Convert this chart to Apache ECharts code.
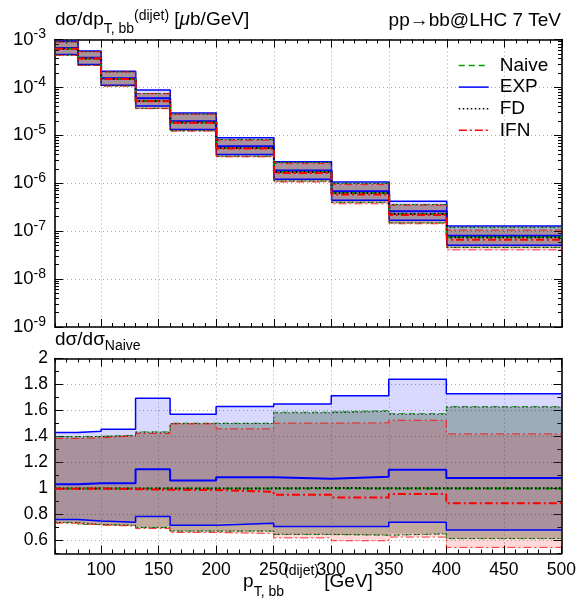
<!DOCTYPE html>
<html>
<head>
<meta charset="utf-8">
<script src="https://cdn.jsdelivr.net/npm/echarts@6/dist/echarts.min.js"></script>
<style>
  html, body { margin: 0; padding: 0; background: #fff; }
  #chart { width: 579px; height: 603px; }
</style>
</head>
<body>
<div id="chart"></div>
<script>
// Bin edges of the b-bbar dijet transverse momentum [GeV]
const binEdges = [60, 80, 100, 130, 160, 200, 250, 300, 350, 400, 500];

// Naive prediction, dσ/dpT [μb/GeV], one value per bin
const naiveXsec = [6.4e-4, 4.0e-4, 1.5e-4, 5.2e-5, 1.85e-5, 5.43e-6, 1.71e-6, 6.23e-7, 2.28e-7, 7.43e-8];

// Every scheme relative to the Naive central value (central, upper, lower edge of the band)
const naiveCentral = [1, 1, 1, 1, 1, 1, 1, 1, 1, 1];
const naiveUpper   = [1.400, 1.400, 1.410, 1.436, 1.503, 1.503, 1.587, 1.600, 1.577, 1.631];
const naiveLower   = [0.739, 0.723, 0.716, 0.700, 0.672, 0.672, 0.646, 0.640, 0.651, 0.614];

const expCentral = [1.033, 1.040, 1.040, 1.149, 1.062, 1.087, 1.075, 1.090, 1.144, 1.080];
const expUpper   = [1.430, 1.440, 1.456, 1.695, 1.572, 1.630, 1.650, 1.713, 1.840, 1.728];
const expLower   = [0.762, 0.750, 0.740, 0.785, 0.718, 0.733, 0.708, 0.708, 0.741, 0.680];

const fdCentral = [1.000, 1.000, 1.000, 1.001, 1.000, 1.001, 1.004, 1.002, 1.002, 1.001];
const fdUpper   = [1.398, 1.399, 1.408, 1.433, 1.500, 1.500, 1.582, 1.594, 1.571, 1.626];
const fdLower   = [0.739, 0.724, 0.717, 0.701, 0.673, 0.673, 0.648, 0.642, 0.652, 0.616];

const ifnCentral = [0.998, 1.000, 0.995, 0.990, 0.988, 0.975, 0.952, 0.931, 0.957, 0.887];
const ifnUpper   = [1.385, 1.390, 1.405, 1.423, 1.497, 1.459, 1.503, 1.505, 1.525, 1.420];
const ifnLower   = [0.733, 0.720, 0.710, 0.692, 0.662, 0.654, 0.620, 0.598, 0.626, 0.547];

// Tick positions
const xMajorTicks = [100, 150, 200, 250, 300, 350, 400, 450, 500];
const ratioMajorTicks = [0.6, 0.8, 1.0, 1.2, 1.4, 1.6, 1.8, 2.0];
const decadeExponents = [-9, -8, -7, -6, -5, -4, -3];
const minorMantissas = [2, 3, 4, 5, 6, 7, 8, 9];

const decadeTicks = decadeExponents.map(e => Math.pow(10, e));
const decadeMinorTicks = [];
decadeExponents.slice(0, -1).forEach(e => minorMantissas.forEach(k => decadeMinorTicks.push(k * Math.pow(10, e))));

const FONT = '"Liberation Sans", Arial, Helvetica, sans-serif';

// histogram outline: value of bin i held from edge i to edge i+1
function steps(vals) {
  return binEdges.map((x, i) => [x, vals[Math.min(i, vals.length - 1)]]);
}
const toXsec = ratio => ratio.map((r, i) => r * naiveXsec[i]);

const models = [
  { key: 'EXP',   color: '#0000ff', fill: 'rgba(0,0,255,0.15)', dash: 'solid',      edgeW: 1.5, edgeA: 1,   c: expCentral,   u: expUpper,   l: expLower },
  { key: 'Naive', color: '#00a000', fill: 'rgba(0,128,0,0.15)', dash: [6, 4],       edgeW: 1,   edgeA: 0.8, c: naiveCentral, u: naiveUpper, l: naiveLower },
  { key: 'FD',    color: '#000000', fill: 'rgba(0,0,0,0.15)',   dash: [1.5, 2.5],   edgeW: 1,   edgeA: 0.8, c: fdCentral,    u: fdUpper,    l: fdLower },
  { key: 'IFN',   color: '#ff0000', fill: 'rgba(255,0,0,0.15)', dash: [8, 3, 2, 3], edgeW: 1,   edgeA: 0.8, c: ifnCentral,   u: ifnUpper,   l: ifnLower }
];

const tickLine = { color: '#000', width: 1 };
const frameLine = { show: true, lineStyle: { color: '#000', width: 1.6 } };
const dotted = { show: true, lineStyle: { color: '#a8a8a8', width: 1, type: [1, 3] } };
const labelFont = { color: '#000', fontSize: 17.5, fontFamily: FONT };

function xAxesFor(g, withLabels) {
  const base = { type: 'value', gridIndex: g, min: 60, max: 500,
    axisLine: { show: false }, axisLabel: { show: false }, splitLine: { show: false } };
  return [
    Object.assign({}, base, { position: 'bottom', axisLine: frameLine, splitLine: dotted,
      axisTick: { inside: true, length: 8, lineStyle: tickLine, customValues: xMajorTicks },
      axisLabel: withLabels ? Object.assign({ show: true, margin: 8, customValues: xMajorTicks }, labelFont) : { show: false } }),
    Object.assign({}, base, { position: 'bottom', interval: 10,
      axisTick: { inside: true, length: 4, lineStyle: tickLine } }),
    Object.assign({}, base, { position: 'top', axisLine: frameLine,
      axisTick: { inside: true, length: 8, lineStyle: tickLine, customValues: xMajorTicks } }),
    Object.assign({}, base, { position: 'top', interval: 10,
      axisTick: { inside: true, length: 4, lineStyle: tickLine } })
  ];
}

function logAxes() {
  const base = { type: 'log', logBase: 10, gridIndex: 0, min: 1e-9, max: 1e-3,
    axisLine: { show: false }, axisLabel: { show: false }, splitLine: { show: false } };
  return [
    Object.assign({}, base, { position: 'left', axisLine: frameLine, splitLine: dotted,
      axisTick: { inside: true, length: 8, lineStyle: tickLine, customValues: decadeTicks },
      axisLabel: { show: true, margin: 9, customValues: decadeTicks,
        formatter: v => '{b|10}{e|' + Math.round(Math.log10(v)) + '}',
        rich: {
          b: { fontSize: 18.5, lineHeight: 24, color: '#000', fontFamily: FONT },
          e: { fontSize: 14, lineHeight: 12, verticalAlign: 'top', color: '#000', fontFamily: FONT }
        } } }),
    Object.assign({}, base, { position: 'left',
      axisTick: { inside: true, length: 4, lineStyle: tickLine, customValues: decadeMinorTicks } }),
    Object.assign({}, base, { position: 'right', axisLine: frameLine,
      axisTick: { inside: true, length: 8, lineStyle: tickLine, customValues: decadeTicks } }),
    Object.assign({}, base, { position: 'right',
      axisTick: { inside: true, length: 4, lineStyle: tickLine, customValues: decadeMinorTicks } })
  ];
}

function ratioAxes() {
  const base = { type: 'value', gridIndex: 1, min: 0.5, max: 2.0,
    axisLine: { show: false }, axisLabel: { show: false }, splitLine: { show: false } };
  return [
    Object.assign({}, base, { position: 'left', axisLine: frameLine, splitLine: dotted,
      axisTick: { inside: true, length: 8, lineStyle: tickLine, customValues: ratioMajorTicks },
      axisLabel: Object.assign({ show: true, margin: 7, customValues: ratioMajorTicks,
        formatter: v => String(+v.toFixed(1)) }, labelFont) }),
    Object.assign({}, base, { position: 'left', interval: 0.1,
      axisTick: { inside: true, length: 4, lineStyle: tickLine } }),
    Object.assign({}, base, { position: 'right', axisLine: frameLine,
      axisTick: { inside: true, length: 8, lineStyle: tickLine, customValues: ratioMajorTicks } }),
    Object.assign({}, base, { position: 'right', interval: 0.1,
      axisTick: { inside: true, length: 4, lineStyle: tickLine } })
  ];
}

// one translucent polygon per scheme, outlining the band over all bins
function bandSeries(panel, m, lo, hi) {
  const rows = lo.map((l, i) => [binEdges[i], binEdges[i + 1], l, hi[i]]);
  return {
    type: 'custom', name: m.key + ' band ' + panel,
    xAxisIndex: panel * 4, yAxisIndex: panel * 4,
    silent: true, z: 2, clip: true,
    data: rows,
    encode: { x: [0, 1], y: [2, 3] },
    renderItem: (params, api) => {
      if (params.dataIndex !== 0) return null;
      const top = [], bottom = [];
      for (let i = 0; i < params.dataInsideLength; i++) {
        const x0 = api.value(0, i), x1 = api.value(1, i);
        const l = api.value(2, i), h = api.value(3, i);
        top.push(api.coord([x0, h]), api.coord([x1, h]));
        bottom.push(api.coord([x0, l]), api.coord([x1, l]));
      }
      return { type: 'polygon', shape: { points: top.concat(bottom.reverse()) },
        style: { fill: m.fill, stroke: null } };
    }
  };
}

const series = [];
[{ panel: 0, conv: toXsec }, { panel: 1, conv: r => r }].forEach(p => {
  const ax = { xAxisIndex: p.panel * 4, yAxisIndex: p.panel * 4 };
  models.forEach(m => series.push(bandSeries(p.panel, m, p.conv(m.l), p.conv(m.u))));
  // band edges
  models.forEach(m => {
    [['up', m.u], ['down', m.l]].forEach(([tag, vals]) => {
      series.push(Object.assign({ type: 'line', name: m.key + ' ' + tag + ' ' + p.panel, step: 'end',
        symbol: 'none', silent: true, data: steps(p.conv(vals)),
        lineStyle: { color: m.color, width: m.edgeW, type: m.dash, opacity: m.edgeA }, z: 3 }, ax));
    });
  });
  // central values
  models.forEach(m => {
    series.push(Object.assign({ type: 'line', name: p.panel === 0 ? m.key : m.key + ' ratio', step: 'end',
      symbol: 'none', silent: true, data: steps(p.conv(m.c)), color: m.color,
      lineStyle: { color: m.color, width: 2, type: m.dash }, z: 4 }, ax));
  });
});

// rich-text styles for formula labels: subscript sits at the line bottom,
// superscript at the line top pushed down by supDrop
function formulaStyles(mainSize, subSize, lineH, supDrop) {
  return {
    m:   { fontSize: mainSize, lineHeight: lineH, fill: '#000', fontFamily: FONT },
    mi:  { fontSize: mainSize, lineHeight: lineH, fill: '#000', fontFamily: FONT, fontStyle: 'italic' },
    sub: { fontSize: subSize, verticalAlign: 'bottom', fill: '#000', fontFamily: FONT },
    sup: { fontSize: subSize, verticalAlign: 'top', padding: [supDrop, 0, 0, 0], fill: '#000', fontFamily: FONT }
  };
}

const chart = echarts.init(document.getElementById('chart'), null, { renderer: 'canvas' });
chart.setOption({
  animation: false,
  backgroundColor: '#fff',
  textStyle: { fontFamily: FONT },
  grid: [
    { left: 55, top: 39.5, width: 507, height: 287.5 },
    { left: 55, top: 358.5, width: 507, height: 195 }
  ],
  xAxis: xAxesFor(0, false).concat(xAxesFor(1, true)),
  yAxis: logAxes().concat(ratioAxes()),
  legend: {
    data: ['Naive', 'EXP', 'FD', 'IFN'],
    orient: 'vertical', left: 453, top: 51,
    itemWidth: 30, itemHeight: 14, itemGap: 2.6,
    itemStyle: { opacity: 0 },
    lineStyle: { width: 1.5 },
    textStyle: { fontSize: 19, lineHeight: 17, color: '#000', fontFamily: FONT, padding: [0, 0, 0, 6] },
    selectedMode: false
  },
  graphic: [
    { type: 'text', x: 55, y: 20, style: {
        text: '{m|dσ/dp}{sub|T, bb}{sup|(dijet)}{m| [}{mi|μ}{m|b/GeV]}',
        rich: formulaStyles(19, 14, 32, 5), verticalAlign: 'middle', align: 'left' } },
    { type: 'text', x: 561, y: 21, style: {
        text: 'pp→bb@LHC 7 TeV', fontSize: 19, fill: '#000', fontFamily: FONT,
        verticalAlign: 'middle', align: 'right' } },
    { type: 'text', x: 55, y: 340, style: {
        text: '{m|dσ/dσ}{sub|Naive}', rich: formulaStyles(19, 14, 26, 0),
        verticalAlign: 'middle', align: 'left' } },
    { type: 'text', x: 308, y: 582, style: {
        text: '{m|p}{sub|T, bb}{sup|(dijet)}{m| [GeV]}', rich: formulaStyles(19, 14, 35, 0),
        verticalAlign: 'middle', align: 'center' } }
  ],
  series
});
</script>
</body>
</html>
